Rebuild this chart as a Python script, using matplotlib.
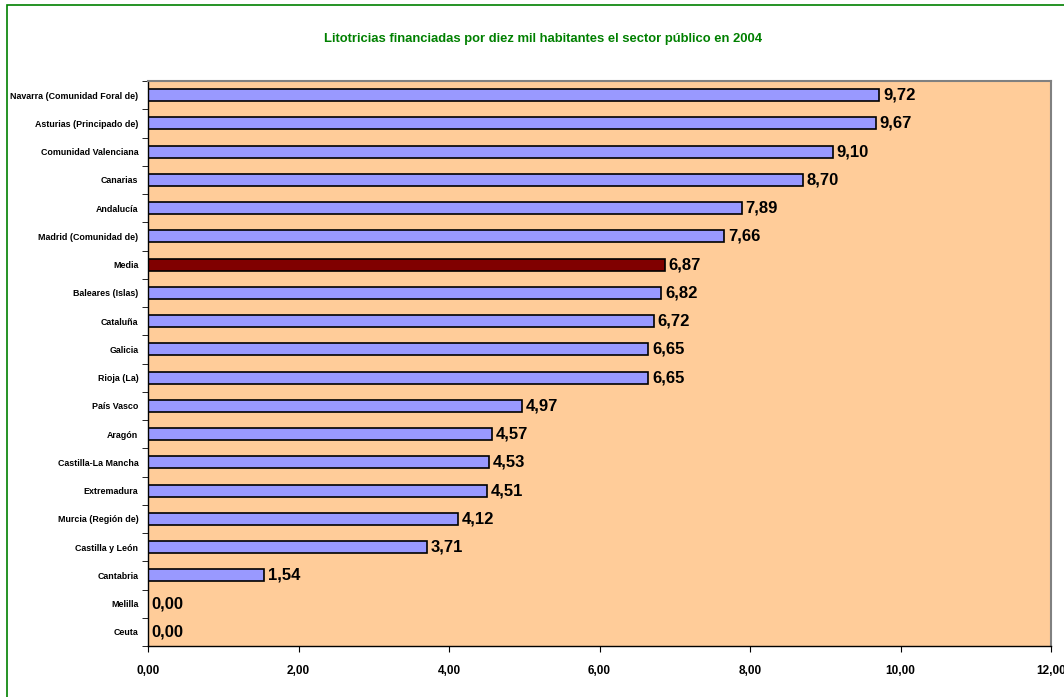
import matplotlib.pyplot as plt
from matplotlib.patches import Rectangle
from matplotlib import font_manager
import numpy as np

regiones = ['Navarra (Comunidad Foral de)', 'Asturias (Principado de)', 'Comunidad Valenciana',
            'Canarias', 'Andalucía', 'Madrid (Comunidad de)', 'Media', 'Baleares (Islas)',
            'Cataluña', 'Galicia', 'Rioja (La)', 'País Vasco', 'Aragón', 'Castilla-La Mancha',
            'Extremadura', 'Murcia (Región de)', 'Castilla y León', 'Cantabria', 'Melilla', 'Ceuta']
valores = [9.72, 9.67, 9.10, 8.70, 7.89, 7.66, 6.87, 6.82, 6.72, 6.65, 6.65, 4.97, 4.57,
           4.53, 4.51, 4.12, 3.71, 1.54, 0.00, 0.00]
xticks = [0, 2, 4, 6, 8, 10, 12]

nombres = {f.name for f in font_manager.fontManager.ttflist}
narrow = 'Liberation Sans Narrow' if 'Liberation Sans Narrow' in nombres else 'Liberation Sans'
plt.rcParams['font.family'] = [narrow, 'DejaVu Sans']

fig = plt.figure(figsize=(10.64, 6.97), dpi=100)
fig.patches.append(Rectangle((7 / 1064, -0.05), 1.1, 1 - 5 / 697 + 0.05, transform=fig.transFigure,
                             fill=False, edgecolor='#008000', linewidth=1.2))
ax = fig.add_axes([148 / 1064, 1 - 646 / 697, 903 / 1064, 565 / 697])
ax.set_facecolor('#FFCC99')

y = np.arange(len(regiones))
colores = ['#800000' if r == 'Media' else '#9999FF' for r in regiones]
ax.barh(y, valores, height=0.42, color=colores, edgecolor='black', linewidth=1.2)
for yi, v in zip(y, valores):
    ax.text(v + 0.05, yi, f'{v:.2f}'.replace('.', ','), va='center', ha='left',
            fontsize=12, fontweight='bold')

ax.set_ylim(len(regiones) - 0.5, -0.5)
ax.set_xlim(0, 12)
ax.set_yticks(y)
ax.set_yticklabels(regiones, fontsize=6.4, fontweight='bold')
ax.set_yticks(np.arange(len(regiones) + 1) - 0.5, minor=True)
ax.tick_params(axis='y', which='major', length=0, pad=7)
ax.tick_params(axis='y', which='minor', length=4, direction='out')
ax.set_xticks(xticks)
ax.set_xticklabels([f'{t:.2f}'.replace('.', ',') for t in xticks], fontsize=8.5, fontweight='bold')
ax.tick_params(axis='x', length=4, direction='out', pad=10)
for s in ['top', 'right']:
    ax.spines[s].set_color('#808080')
    ax.spines[s].set_linewidth(1.5)
for s in ['left', 'bottom']:
    ax.spines[s].set_color('black')
    ax.spines[s].set_linewidth(1.0)

fig.text(543 / 1064, 1 - 39 / 697, 'Litotricias financiadas por diez mil habitantes el sector público en 2004',
         ha='center', va='center', color='#008000', fontsize=9.4, fontweight='bold')

fig.savefig('out.png', dpi=100)
